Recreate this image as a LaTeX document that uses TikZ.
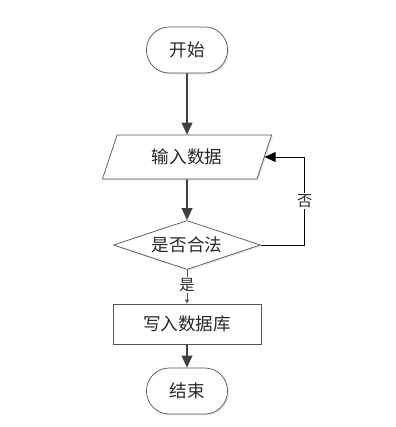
\documentclass[tikz,border=0pt]{standalone}
\usepackage{fontspec}
\newfontfamily\cjk{Noto Sans CJK SC}
\usepackage{tikz}
\usetikzlibrary{arrows.meta,positioning,shapes.geometric,shadows}
\usepackage{xcolor}
\definecolor{fcline}{RGB}{85,85,85}
\definecolor{fcarrow}{RGB}{64,64,64}
\definecolor{fctext}{RGB}{40,40,40}
\tikzset{
    box/.style={
        draw=fcline,line width=0.6pt,fill=white,align=center,text=fctext,
        font=\cjk\fontsize{15}{17}\selectfont,inner sep=0pt,
        drop shadow={shadow xshift=1.2pt,shadow yshift=-1.2pt,fill=black!10,opacity=1}
    },
    terminal/.style={
        box,rounded corners=0.68cm,minimum width=2.43cm,minimum height=1.38cm
    },
    iobox/.style={
        box,trapezium,trapezium left angle=65.5,trapezium right angle=114.5,
        trapezium stretches=true,minimum width=5.1cm,minimum height=1.32cm
    },
    decide/.style={
        box,diamond,aspect=3,minimum width=4.41cm,minimum height=1.47cm
    },
    process/.style={
        box,rectangle,minimum width=4.44cm,minimum height=1.2cm
    },
    arrow/.style={
        -{Triangle[length=3.6mm,width=3.2mm]},line width=1.4pt,draw=fcarrow
    },
    thinarrow/.style={
        -{Triangle[length=1.2mm,width=1.2mm]},line width=0.6pt,draw=fcline
    },
    backarrow/.style={
        -{Triangle[length=3.3mm,width=3mm]},line width=0.7pt,draw=black
    },
    lab/.style={
        fill=white,inner sep=1pt,text=fctext,font=\cjk\fontsize{13}{15}\selectfont
    }
}

\begin{document}
\begin{tikzpicture}[x=0.03cm,y=-0.03cm]
\useasboundingbox (0,0) rectangle (395,427);

\node[terminal] (start) at (187,50) {开始};
\node[iobox] (inp) at (187,157) {输入数据};
\node[decide] (chk) at (187,245) {是否合法};
\node[process] (save) at (187,324) {写入数据库};
\node[terminal] (stop) at (187,391) {结束};

\draw[arrow] (start) -- (inp);
\draw[arrow] (inp) -- (chk);
\draw[thinarrow] (chk) -- (save) node[lab,pos=0.45] {是};
\draw[arrow] (save) -- (stop);
\draw[backarrow] (chk.east) -- ++(44,0) |- (inp.east)
    node[lab,pos=0.25] {否};

\end{tikzpicture}
\end{document}
